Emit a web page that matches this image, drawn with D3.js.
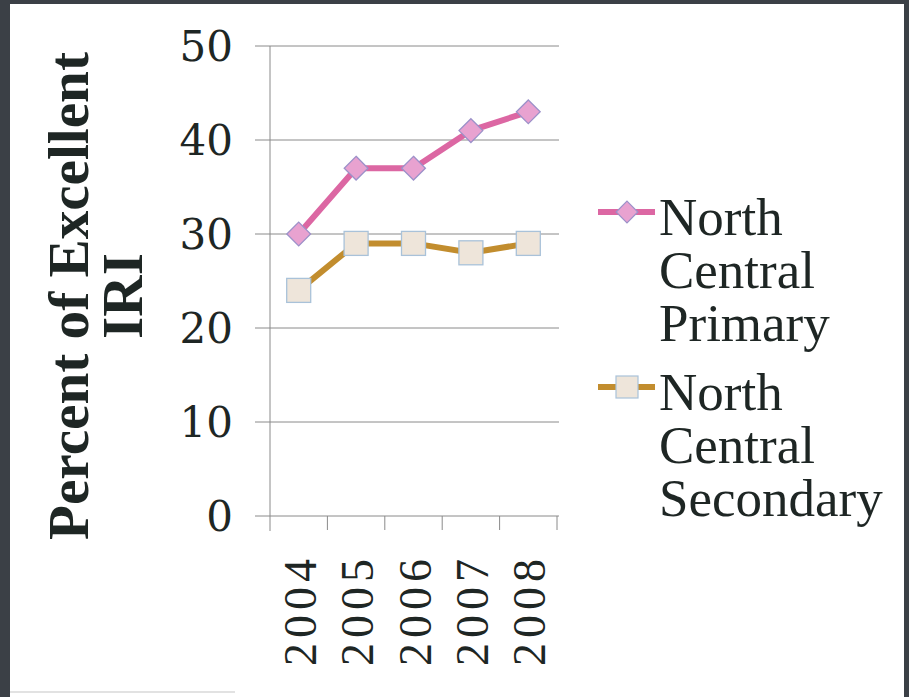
<!doctype html>
<html>
<head>
<meta charset="utf-8">
<style>
  body { margin: 0; background: #3b4046; }
  svg { display: block; }
  text { font-family: "Liberation Serif", "DejaVu Serif", serif; fill: #1e2624; }
  .num { font-family: "DejaVu Serif", "Liberation Serif", serif; }
  .grid line { stroke: #8a8a8a; stroke-width: 1; }
  .axis line { stroke: #8a8a8a; stroke-width: 1; fill: none; }
</style>
<script src="https://d3js.org/d3.v7.min.js"></script>
</head>
<body>
<svg width="909" height="697"></svg>
<script>
var years = ["2004", "2005", "2006", "2007", "2008"];
var primary = [30, 37, 37, 41, 43];
var secondary = [24, 29, 29, 28, 29];
var yTicks = [0, 10, 20, 30, 40, 50];
var seriesNames = [["North", "Central", "Primary"], ["North", "Central", "Secondary"]];

(function() {
var svg = d3.select("svg");

// white slide area inside the dark frame
svg.append("rect").attr("x", 0).attr("y", 0).attr("width", 909).attr("height", 697).attr("fill", "#3b4046");
svg.append("rect").attr("x", 10).attr("y", 4).attr("width", 894).attr("height", 693).attr("fill", "#ffffff");
svg.append("line").attr("x1", 10).attr("x2", 235).attr("y1", 692).attr("y2", 692)
   .attr("stroke", "#e2e2e2").attr("stroke-width", 2);

var pLeft = 270, pRight = 557, pTop = 46, pBottom = 516;

var x = d3.scaleBand().domain(years).range([pLeft, pRight]);
var y = d3.scaleLinear().domain([0, 50]).range([pBottom, pTop]);

// horizontal gridlines
svg.append("g").attr("class", "grid")
   .selectAll("line").data(yTicks).enter().append("line")
   .attr("x1", pLeft - 15).attr("x2", pRight + 2)
   .attr("y1", function(d) { return y(d); })
   .attr("y2", function(d) { return y(d); });

// y axis line
svg.append("line").attr("x1", pLeft).attr("x2", pLeft).attr("y1", pTop).attr("y2", pBottom + 15)
   .attr("stroke", "#8a8a8a");

// x axis tick marks at category boundaries
var bounds = years.map(function(d) { return x(d); }).concat([x(years[years.length - 1]) + x.bandwidth()]);
svg.append("g").attr("class", "axis")
   .selectAll("line").data(bounds.slice(1)).enter().append("line")
   .attr("x1", function(d) { return d; }).attr("x2", function(d) { return d; })
   .attr("y1", pBottom).attr("y2", pBottom + 14);

// y tick labels
svg.append("g").selectAll("text").data(yTicks).enter().append("text")
   .attr("class", "num")
   .attr("x", 233).attr("y", function(d) { return y(d); })
   .attr("dy", "0.36em")
   .attr("text-anchor", "end")
   .attr("font-size", 42)
   .text(function(d) { return d; });

// x tick labels, rotated
svg.append("g").selectAll("text").data(years).enter().append("text")
   .attr("transform", function(d) {
       return "translate(" + (x(d) + x.bandwidth() / 2 + 17) + "," + 554 + ") rotate(-90)";
   })
   .attr("text-anchor", "end")
   .attr("font-size", 46)
   .attr("letter-spacing", 5)
   .text(function(d) { return d; });

// y axis title
var title = svg.append("g").attr("transform", "translate(88,296) rotate(-90)");
var t1 = title.append("text").attr("text-anchor", "middle").attr("font-weight", "bold")
   .attr("font-size", 50).text("Percent of Excellent");
var len = t1.node().getComputedTextLength();
t1.attr("font-size", 50 * 488 / len);
title.append("text").attr("text-anchor", "middle").attr("font-weight", "bold")
   .attr("y", 54).attr("font-size", 50 * 488 / len).text("IRI");

var line = d3.line()
   .x(function(d, i) { return x(years[i]) + x.bandwidth() / 2; })
   .y(function(d) { return y(d); });

// secondary series
svg.append("path").datum(secondary).attr("d", line)
   .attr("fill", "none").attr("stroke", "#c28d2e").attr("stroke-width", 6);
svg.append("g").selectAll("rect").data(secondary).enter().append("rect")
   .attr("x", function(d, i) { return x(years[i]) + x.bandwidth() / 2 - 12; })
   .attr("y", function(d) { return y(d) - 12; })
   .attr("width", 24).attr("height", 24)
   .attr("fill", "#eee5da").attr("stroke", "#a9c2d9").attr("stroke-width", 1.3);

// primary series
svg.append("path").datum(primary).attr("d", line)
   .attr("fill", "none").attr("stroke", "#dc67a3").attr("stroke-width", 6);
svg.append("g").selectAll("path").data(primary).enter().append("path")
   .attr("d", d3.symbol().type(d3.symbolDiamond2).size(360))
   .attr("transform", function(d, i) {
       return "translate(" + (x(years[i]) + x.bandwidth() / 2) + "," + y(d) + ")";
   })
   .attr("fill", "#e8a2d0").attr("stroke", "#9c91c9").attr("stroke-width", 1.3);

// legend
var legY = [212, 387];
var legend = svg.append("g").selectAll("g").data(seriesNames).enter().append("g")
   .attr("transform", function(d, i) { return "translate(0," + legY[i] + ")"; });
legend.append("line").attr("x1", 598).attr("x2", 655).attr("y1", 0).attr("y2", 0)
   .attr("stroke", function(d, i) { return i === 0 ? "#dc67a3" : "#c28d2e"; })
   .attr("stroke-width", 6);
legend.each(function(d, i) {
    var g = d3.select(this);
    if (i === 0) {
        g.append("path").attr("d", d3.symbol().type(d3.symbolDiamond2).size(300))
         .attr("transform", "translate(627,0)")
         .attr("fill", "#e8a2d0").attr("stroke", "#9c91c9").attr("stroke-width", 1.2);
    } else {
        g.append("rect").attr("x", 616).attr("y", -11).attr("width", 22).attr("height", 22)
         .attr("fill", "#eee5da").attr("stroke", "#a9c2d9").attr("stroke-width", 1.2);
    }
    g.selectAll("text").data(d).enter().append("text")
     .attr("x", 659).attr("y", function(s, j) { return 23 + j * 53; })
     .attr("font-size", 53)
     .text(function(s) { return s; });
});
})();
</script>
</body>
</html>
